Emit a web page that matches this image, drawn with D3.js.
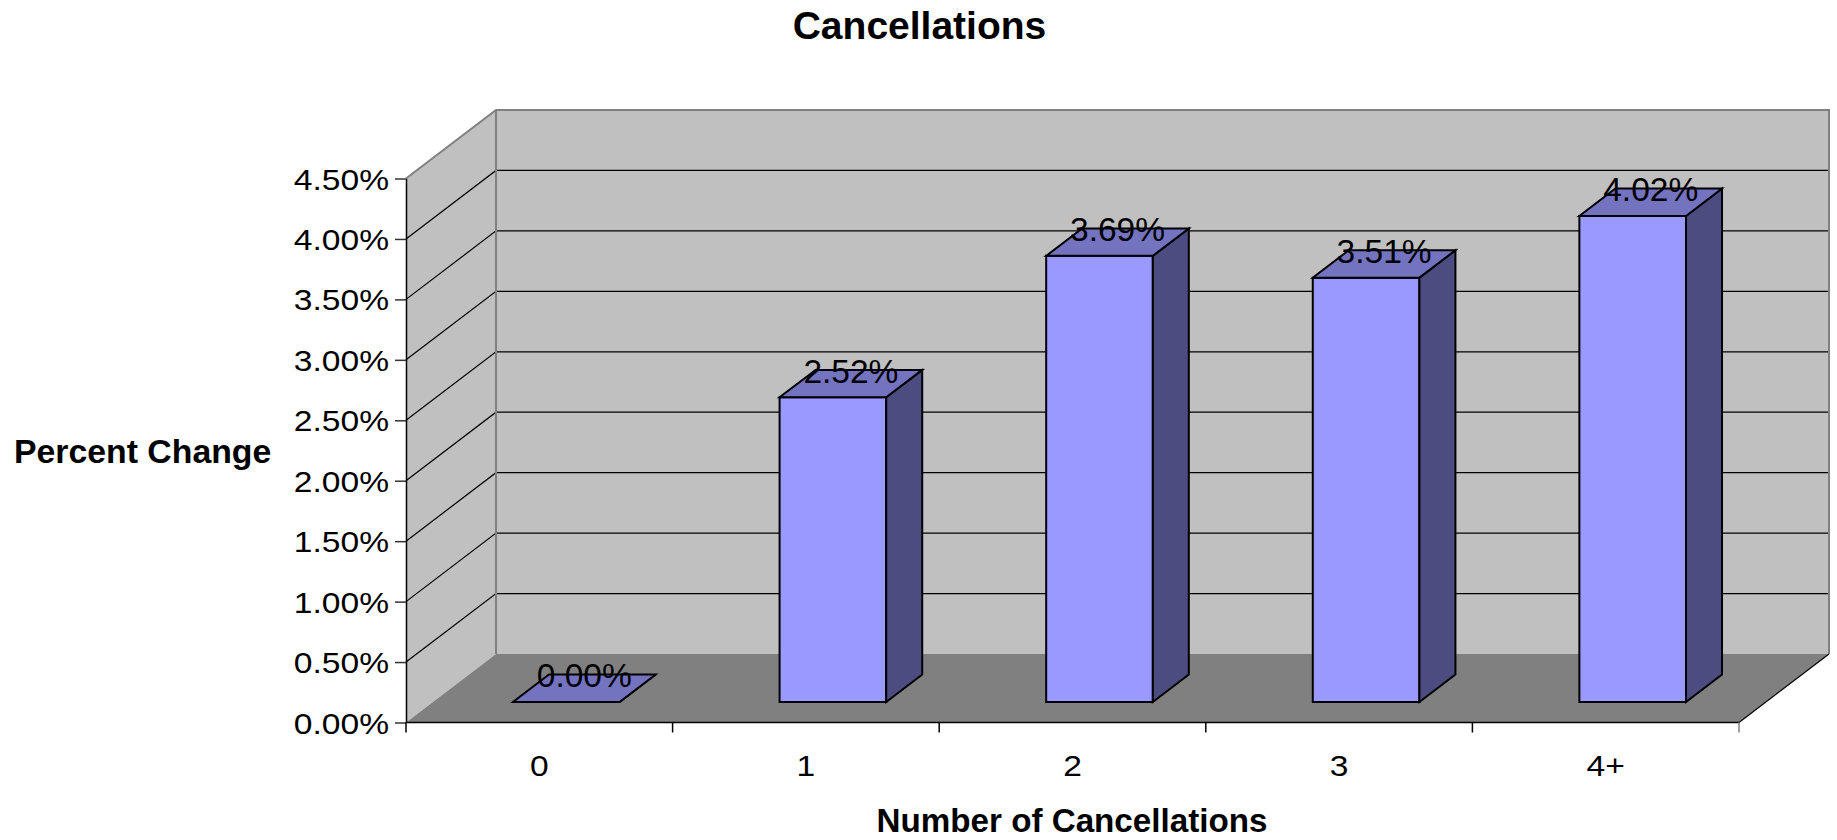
<!DOCTYPE html>
<html><head><meta charset="utf-8">
<script src="https://cdn.jsdelivr.net/npm/d3@7"></script>
<style>html,body{margin:0;padding:0;background:#fff;}svg{display:block;}</style>
</head><body>
<script>
const categories = ["0", "1", "2", "3", "4+"];
const values = [0.0000, 0.0252, 0.0369, 0.0351, 0.0402];
const dataLabels = ["0.00%", "2.52%", "3.69%", "3.51%", "4.02%"];
const yTicks = [0, 0.005, 0.01, 0.015, 0.02, 0.025, 0.03, 0.035, 0.04, 0.045];
const chartTitle = "Cancellations";
const xTitle = "Number of Cancellations";
const yTitle = "Percent Change";

const W = 1837, H = 840;
const X0 = 406, X1 = 1739, Y0 = 722.5, Y1 = 178.5;
const DX = 90, DY = -68.5;
const FONT = "'Liberation Sans', Arial, Helvetica, sans-serif";

const svg = d3.select("body").append("svg").attr("width", W).attr("height", H);

const x = d3.scaleBand().domain(categories).range([X0, X1]).padding(0);
const y = d3.scaleLinear().domain([0, 0.045]).range([Y0, Y1]);
const P = (px, py, z) => [px + z * DX, py + z * DY];
const poly = pts => "M" + pts.map(p => p.join(",")).join("L") + "Z";

// Walls & floor
svg.append("path").attr("d", poly([P(X0, Y0, 1), P(X1, Y0, 1), P(X1, Y1, 1), P(X0, Y1, 1)]))
  .attr("fill", "#c0c0c0");
svg.append("path").attr("d", poly([P(X0, Y0, 0), P(X0, Y1, 0), P(X0, Y1, 1), P(X0, Y0, 1)]))
  .attr("fill", "#c0c0c0");
svg.append("path").attr("d", poly([P(X0, Y0, 0), P(X1, Y0, 0), P(X1, Y0, 1), P(X0, Y0, 1)]))
  .attr("fill", "#808080");

// Gridlines
const grid = yTicks.filter(t => t > 0 && t < 0.045);
svg.append("g").selectAll("path").data(grid).join("path")
  .attr("d", t => { const a = P(X0, y(t), 0), b = P(X0, y(t), 1), c = P(X1, y(t), 1);
    return "M" + a + "L" + b + "L" + c; })
  .attr("fill", "none").attr("stroke", "#000").attr("stroke-width", 1.2);

// Wall outlines (grey)
svg.append("path")
  .attr("d", "M" + P(X0, Y1, 0) + "L" + P(X0, Y1, 1) + "L" + P(X1, Y1, 1) + "L" + P(X1, Y0, 1))
  .attr("fill", "none").attr("stroke", "#808080").attr("stroke-width", 2);
svg.append("path")
  .attr("d", "M" + P(X0, Y1, 1) + "L" + P(X0, Y0, 1))
  .attr("fill", "none").attr("stroke", "#808080").attr("stroke-width", 2);
// Floor right edge
svg.append("path")
  .attr("d", "M" + P(X1, Y0, 0) + "L" + P(X1, Y0, 1))
  .attr("fill", "none").attr("stroke", "#000").attr("stroke-width", 1.2);

// Y axis
const yAxis = d3.axisLeft(y).tickValues(yTicks).tickFormat(d3.format(".2%"))
  .tickSize(11).tickPadding(6).tickSizeOuter(0);
const gy = svg.append("g").attr("transform", `translate(${X0},0)`).call(yAxis);
gy.select(".domain").attr("stroke", "#000").attr("stroke-width", 1.5);
gy.selectAll(".tick line").attr("stroke", "#333").attr("stroke-width", 1.5);
gy.selectAll(".tick text").attr("font-family", FONT).attr("font-size", 30).attr("fill", "#000")
  .attr("dy", null).attr("y", 10.5)
  .each(function () { const t = d3.select(this); const xx = +t.attr("x");
    t.attr("transform", `translate(${xx},0) scale(1.12,1) translate(${-xx},0)`); });
// extend axis line below floor
svg.append("line").attr("x1", X0).attr("x2", X0).attr("y1", Y0).attr("y2", Y0 + 10)
  .attr("stroke", "#000").attr("stroke-width", 1.5);

// X axis baseline and boundary ticks
svg.append("line").attr("x1", X0).attr("x2", X1).attr("y1", Y0).attr("y2", Y0)
  .attr("stroke", "#000").attr("stroke-width", 1.5);
const bounds = categories.map(c => x(c)).concat([X1]).slice(1);
svg.append("g").selectAll("line").data(bounds).join("line")
  .attr("x1", d => d).attr("x2", d => d).attr("y1", Y0).attr("y2", Y0 + 10)
  .attr("stroke", (d, i) => i === bounds.length - 1 ? "#808080" : "#000").attr("stroke-width", 1.5);
const xAxis = d3.axisBottom(x).tickSize(0).tickPadding(0);
const gx = svg.append("g").attr("transform", `translate(0,${Y0})`).call(xAxis);
gx.select(".domain").remove();
gx.selectAll(".tick text").attr("font-family", FONT).attr("font-size", 30).attr("fill", "#000")
  .attr("dy", null).attr("y", 54)
  .attr("transform", "scale(1.12,1)").attr("x", 0);

// Bars
const bw = x.bandwidth();
const bars = svg.append("g").selectAll("g").data(values.map((v, i) => ({ v, c: categories[i], l: dataLabels[i] }))).join("g");
bars.each(function (d) {
  const g = d3.select(this);
  const xl = x(d.c) + 0.3 * bw, xr = xl + 0.4 * bw;
  const yt = y(d.v), yb = y(0);
  const z0 = 0.3, z1 = 0.7;
  g.append("path").attr("d", poly([P(xl, yb, z0), P(xr, yb, z0), P(xr, yt, z0), P(xl, yt, z0)]))
    .attr("fill", "#9999ff").attr("stroke", "#000").attr("stroke-width", 2).attr("stroke-linejoin", "miter");
  g.append("path").attr("d", poly([P(xr, yb, z0), P(xr, yb, z1), P(xr, yt, z1), P(xr, yt, z0)]))
    .attr("fill", "#4c4c80").attr("stroke", "#000").attr("stroke-width", 2);
  g.append("path").attr("d", poly([P(xl, yt, z0), P(xr, yt, z0), P(xr, yt, z1), P(xl, yt, z1)]))
    .attr("fill", "#7373bf").attr("stroke", "#000").attr("stroke-width", 2);
  const c = P((xl + xr) / 2, yt, 0.5);
  g.append("text").attr("x", c[0]).attr("y", c[1] - 1).attr("text-anchor", "middle")
    .attr("font-family", FONT).attr("font-size", 33.5).attr("fill", "#000").text(d.l);
});

// Titles
svg.append("text").attr("x", 919.5).attr("y", 39.3).attr("text-anchor", "middle")
  .attr("font-family", FONT).attr("font-weight", "bold").attr("font-size", 39).text(chartTitle);
svg.append("text").attr("x", 1072).attr("y", 832).attr("text-anchor", "middle")
  .attr("font-family", FONT).attr("font-weight", "bold").attr("font-size", 33.2).text(xTitle);
svg.append("text").attr("x", 14).attr("y", 463.3).attr("text-anchor", "start")
  .attr("font-family", FONT).attr("font-weight", "bold").attr("font-size", 33.8).text(yTitle);
</script>
</body></html>
